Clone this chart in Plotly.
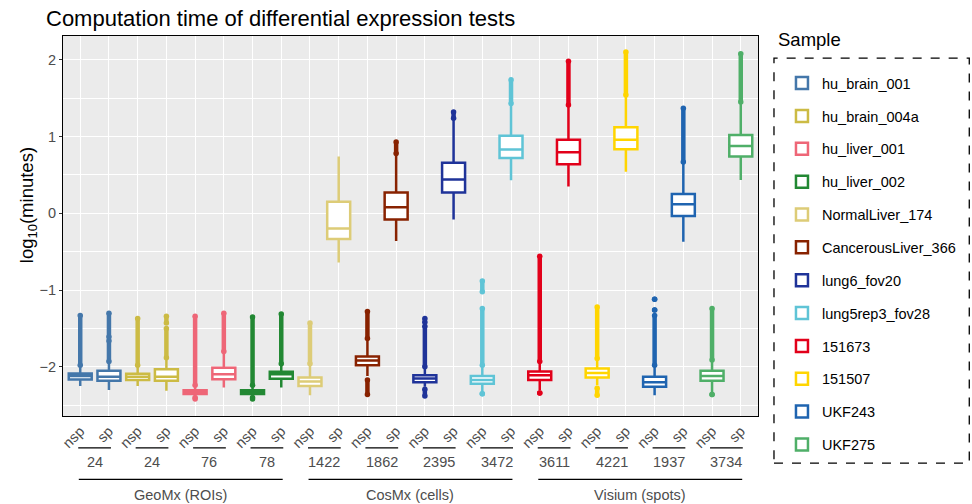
import plotly.graph_objects as go

samples = ["hu_brain_001", "hu_brain_004a", "hu_liver_001", "hu_liver_002",
           "NormalLiver_174", "CancerousLiver_366", "lung6_fov20", "lung5rep3_fov28",
           "151673", "151507", "UKF243", "UKF275"]
colors = ["#4477AA", "#CCBB44", "#EE6677", "#228833", "#DDCC77", "#882200",
          "#1F3399", "#5FC4D6", "#E2001A", "#FFD500", "#1F64B0", "#4FAF68"]
counts = ["24", "24", "76", "78", "1422", "1862", "2395", "3472", "3611", "4221", "1937", "3734"]
groups = ["GeoMx (ROIs)", "CosMx (cells)", "Visium (spots)"]
tick_labels = ["nsp", "sp"]

# box statistics (log10 minutes)
q1_nsp = [-2.165, -2.17, -2.355, -2.355, -2.25, -1.98, -2.20, -2.22, -2.17, -2.14, -2.26, -2.18]
med_nsp = [-2.12, -2.13, -2.33, -2.33, -2.19, -1.917, -2.15, -2.17, -2.11, -2.08, -2.20, -2.12]
q3_nsp = [-2.087, -2.09, -2.305, -2.305, -2.14, -1.865, -2.11, -2.12, -2.06, -2.02, -2.13, -2.05]
lo_nsp = [-2.25, -2.25, -2.37, -2.37, -2.37, -2.12, -2.26, -2.32, -2.30, -2.24, -2.37, -2.33]
hi_nsp = [-2.0, -2.0, -2.24, -2.24, -1.98, -1.65, -2.02, -2.0, -1.95, -1.90, -2.0, -1.92]

q1_sp = [-2.18, -2.18, -2.16, -2.155, -0.335, -0.08, 0.27, 0.72, 0.64, 0.835, -0.035, 0.74]
med_sp = [-2.13, -2.13, -2.095, -2.095, -0.196, 0.08, 0.44, 0.83, 0.796, 0.957, 0.117, 0.878]
q3_sp = [-2.05, -2.03, -2.01, -2.065, 0.15, 0.27, 0.66, 1.01, 0.957, 1.12, 0.252, 1.02]
lo_sp = [-2.30, -2.31, -2.27, -2.27, -0.64, -0.36, -0.08, 0.43, 0.348, 0.543, -0.37, 0.435]
hi_sp = [-1.95, -1.90, -1.82, -1.98, 0.74, 0.76, 1.22, 1.41, 1.39, 1.52, 0.65, 1.43]

# outlier ranges [low, high] (dense outliers appear as solid runs)
out_nsp = [
    [[-1.98, -1.33]],
    [[-1.98, -1.37]],
    [[-2.24, -1.34], [-2.42, -2.40]],
    [[-2.24, -1.35], [-2.42, -2.40]],
    [[-1.96, -1.43]],
    [[-1.63, -1.28], [-2.36, -2.17]],
    [[-2.0, -1.47], [-1.42, -1.37], [-2.38, -2.29]],
    [[-1.98, -1.24], [-1.02, -0.88], [-2.35, -2.35]],
    [[-1.93, -0.56], [-2.34, -2.34]],
    [[-1.89, -1.22], [-2.37, -2.28]],
    [[-1.98, -1.33], [-1.26, -1.26], [-1.12, -1.12]],
    [[-1.91, -1.24], [-2.36, -2.36]],
]
out_sp = [
    [[-1.93, -1.66], [-1.61, -1.30]],
    [[-1.88, -1.50], [-1.43, -1.34]],
    [[-1.80, -1.30]],
    [[-1.96, -1.31]],
    [],
    [[0.78, 0.93]],
    [[1.24, 1.32]],
    [[1.43, 1.74]],
    [[1.41, 1.98]],
    [[1.54, 2.10]],
    [[0.67, 1.37]],
    [[1.45, 2.08]],
]

FONT = "Liberation Sans, Arial, Helvetica, sans-serif"
GRAY = "#4D4D4D"
n_cat = 2 * len(samples)
x_lo, x_hi = -0.6, n_cat - 1 + 0.6


def paper_x(v):
    return (v - x_lo) / (x_hi - x_lo)


fig = go.Figure()

for k, s in enumerate(samples):
    c = colors[k]
    xs = [2 * k, 2 * k + 1]
    fig.add_trace(go.Box(
        x=xs, q1=[q1_nsp[k], q1_sp[k]], median=[med_nsp[k], med_sp[k]],
        q3=[q3_nsp[k], q3_sp[k]], lowerfence=[lo_nsp[k], lo_sp[k]],
        upperfence=[hi_nsp[k], hi_sp[k]],
        name=s, legendgroup=s, width=0.8, whiskerwidth=0,
        fillcolor="white", line=dict(color=c, width=2.5), marker=dict(color=c),
        boxpoints=False, hoverinfo="skip",
    ))
    ox, oy = [], []
    for xi, segs in zip(xs, [out_nsp[k], out_sp[k]]):
        for lo, hi in segs:
            ox += [xi, xi, None]
            oy += [lo, hi, None]
    if ox:
        fig.add_trace(go.Scatter(
            x=ox, y=oy, mode="lines+markers", legendgroup=s, showlegend=False,
            line=dict(color=c, width=4.5), marker=dict(color=c, size=5.5),
            hoverinfo="skip",
        ))

shapes = []
annotations = []
y_pair_line = -0.084
y_count = -0.122
y_group_line = -0.167
y_group_text = -0.209

for k, cnt in enumerate(counts):
    cx = 2 * k + 0.5
    shapes.append(dict(type="line", xref="paper", yref="paper",
                       x0=paper_x(cx - 0.57), x1=paper_x(cx + 0.57),
                       y0=y_pair_line, y1=y_pair_line,
                       line=dict(color="black", width=1.3)))
    annotations.append(dict(text=cnt, xref="paper", yref="paper", x=paper_x(cx),
                            y=y_count, showarrow=False, xanchor="center", yanchor="middle",
                            font=dict(size=14.5, color=GRAY, family=FONT)))

per_group = len(samples) // len(groups)
for g, name in enumerate(groups):
    cx = g * per_group * 2 + per_group - 0.5
    half = per_group - 0.45
    shapes.append(dict(type="line", xref="paper", yref="paper",
                       x0=paper_x(cx - half), x1=paper_x(cx + half),
                       y0=y_group_line, y1=y_group_line,
                       line=dict(color="black", width=1.3)))
    annotations.append(dict(text=name, xref="paper", yref="paper", x=paper_x(cx),
                            y=y_group_text, showarrow=False, xanchor="center", yanchor="middle",
                            font=dict(size=14.5, color=GRAY, family=FONT)))

# legend frame (dashed) and title
shapes.append(dict(type="rect", xref="paper", yref="paper",
                   x0=1.023, x1=1.304, y0=-0.124, y1=0.942,
                   line=dict(color="black", width=1.3, dash="dash")))
annotations.append(dict(text="Sample", xref="paper", yref="paper", x=1.0259, y=0.9895,
                        showarrow=False, xanchor="left", yanchor="middle",
                        font=dict(size=18.5, color="black", family=FONT)))
# y-axis title
annotations.append(dict(text="log<sub>10</sub>(minutes)", xref="paper", yref="paper",
                        x=-0.0503, y=0.555, textangle=-90, showarrow=False,
                        xanchor="center", yanchor="middle",
                        font=dict(size=18.5, color="black", family=FONT)))

fig.update_layout(
    width=972, height=504,
    margin=dict(l=63, r=213, t=36, b=88),
    paper_bgcolor="white", plot_bgcolor="#EBEBEB",
    font=dict(family=FONT, size=14.5, color="black"),
    title=dict(text="Computation time of differential expression tests",
               x=46 / 972, xref="container", xanchor="left",
               y=1 - 18 / 504, yref="container", yanchor="middle",
               font=dict(size=22, color="black", family=FONT)),
    boxmode="overlay",
    showlegend=True,
    legend=dict(x=1.033, y=0.918, xanchor="left", yanchor="top",
                bgcolor="rgba(0,0,0,0)", borderwidth=0,
                traceorder="grouped", tracegroupgap=11, maxheight=600,
                font=dict(size=14.5, color="black", family=FONT)),
    shapes=shapes, annotations=annotations,
)

fig.update_xaxes(
    range=[x_lo, x_hi], tickmode="array", tickvals=list(range(n_cat)),
    ticktext=tick_labels * len(samples), tickangle=-45,
    tickfont=dict(size=14.5, color=GRAY, family=FONT),
    showgrid=True, gridcolor="white", gridwidth=1.1, zeroline=False,
    showline=True, linecolor="black", linewidth=1.2, mirror=True, ticks="",
)
fig.update_yaxes(
    range=[-2.64, 2.31], tick0=0, dtick=1,
    tickfont=dict(size=14.5, color=GRAY, family=FONT),
    showgrid=True, gridcolor="white", gridwidth=1.1, zeroline=False,
    minor=dict(dtick=0.5, showgrid=True, gridcolor="white", gridwidth=0.5, ticks=""),
    showline=True, linecolor="black", linewidth=1.2, mirror=True,
    ticks="outside", ticklen=3, tickcolor="#333333",
)

fig.write_html("out.html", config={"displayModeBar": False},
               post_script="document.body.style.margin='0px';")
